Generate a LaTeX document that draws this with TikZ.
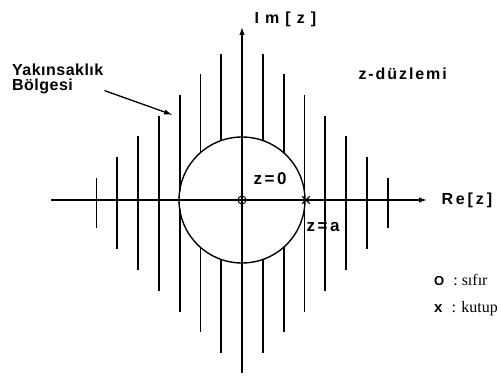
\documentclass[tikz,border=0pt]{standalone}
\usepackage{fontspec}
\setmainfont{Liberation Serif}
\setsansfont{Liberation Sans}
\usetikzlibrary{arrows.meta,shapes.misc}

\tikzset{
  hatch/.style={line width=1.8pt},
  axis/.style={line width=1.5pt,-{Latex[length=8pt,width=5.5pt]}},
  lbl/.style={font=\sffamily\bfseries\fontsize{16}{14.5}\selectfont},
  zlbl/.style={font=\sffamily\bfseries\fontsize{17}{20}\selectfont},
  legend/.style={font=\fontsize{16}{18}\selectfont,anchor=west,inner sep=0pt},
}
\def\spaced#1#2{{\addfontfeatures{LetterSpace=#1}#2}}

\begin{document}
\begin{tikzpicture}[x=1pt,y=-1pt]
\useasboundingbox (0,0) rectangle (501,377);

% axes
\coordinate (O) at (242,200);
\coordinate (xl) at (51,200);
\coordinate (xr) at (427,200);
\coordinate (yb) at (242,373);
\coordinate (yt) at (242,27);
\draw [axis] (xl) -- (xr);
\draw [axis] (yb) -- (yt);

% vertical hatching, cut by the circle
\foreach \k in {-7,...,-1,1,2,...,7}{
  \pgfmathsetmacro\dx{20.8*\k}
  \pgfmathsetmacro\up{167-20.7*abs(\k)}
  \pgfmathsetmacro\dn{174-20.8*abs(\k)}
  \pgfmathsetmacro\gap{63*sqrt(max(1-(\dx/63)*(\dx/63),0))}
  \draw [hatch] (242+\dx,200-\up) -- (242+\dx,200-\gap);
  \draw [hatch] (242+\dx,200+\gap) -- (242+\dx,200+\dn);
}

\draw [line width=1.4pt] (O) circle (63);

% zero and pole
\node [draw, circle, line width=1pt, minimum size=8pt, inner sep=0pt] (zero) at (O) {};
\node [draw, cross out, line width=1.3pt, minimum size=6pt, inner sep=0pt] (pole) at (306,200) {};

\node [lbl, anchor=west] (im) at (251,19) {\spaced{38}{Im[z]}};
\node [lbl, anchor=west] (re) at (438,200) {\spaced{18}{Re[z]}};
\node [lbl, anchor=west] (plane) at (355,74) {\spaced{12}{z-düzlemi}};
\node [zlbl, anchor=west] (z0) at (250,179) {\spaced{15}{z=0}};
\node [zlbl, anchor=west] (za) at (303,227) {\spaced{15}{z=a}};

\node [lbl, align=left, anchor=north west, inner sep=1pt] (roc) at (11,63) {\spaced{3}{Yakınsaklık}\\\spaced{3}{Bölgesi}};
\coordinate (roctip) at (173,115);
\draw [-{Latex[length=9pt,width=5pt]}, line width=1.3pt] (roc.-14) -- (roctip);

% legend
\node [legend] (lz) at (434,280) {{\sffamily\bfseries\fontsize{13}{15}\selectfont O}\hspace{9pt}: sıfır};
\node [legend] (lp) at (434,309) {{\sffamily\bfseries\fontsize{15}{15}\selectfont x}\hspace{9pt}: kutup};

\end{tikzpicture}
\end{document}
